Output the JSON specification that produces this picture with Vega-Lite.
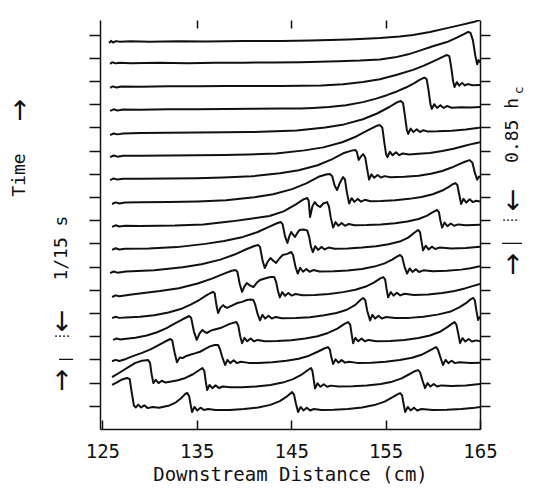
{
"$schema": "https://vega.github.io/schema/vega-lite/v6.json",
"width": 380, "height": 409,
"autosize": {"type": "none"},
"padding": {"left": 100, "top": 20, "right": 53, "bottom": 61},
"background": "white",
"config": {"view": {"stroke": null}, "font": "DejaVu Sans Mono"},
"datasets": {
"traces": [
{"t":1,"x":125.71,"y":16.64},{"t":1,"x":125.92,"y":16.73},{"t":1,"x":126.13,"y":16.66},{"t":1,"x":126.45,"y":16.72},{"t":1,"x":126.87,"y":16.69},{"t":1,"x":128,"y":16.71},{"t":1,"x":130,"y":16.69},{"t":1,"x":133,"y":16.71},{"t":1,"x":136,"y":16.7},{"t":1,"x":140,"y":16.72},{"t":1,"x":144,"y":16.73},{"t":1,"x":147,"y":16.75},{"t":1,"x":149.1,"y":16.77},{"t":1,"x":151,"y":16.79},{"t":1,"x":152.3,"y":16.81},{"t":1,"x":154.4,"y":16.85},{"t":1,"x":156.5,"y":16.92},{"t":1,"x":157.9,"y":16.98},{"t":1,"x":159.7,"y":17.11},{"t":1,"x":161.5,"y":17.28},{"t":1,"x":162.9,"y":17.41},{"t":1,"x":164.3,"y":17.54},{"t":1,"x":165,"y":17.63},
{"t":2,"x":125.82,"y":15.74},{"t":2,"x":126.05,"y":15.81},{"t":2,"x":126.4,"y":15.76},{"t":2,"x":126.8,"y":15.79},{"t":2,"x":128,"y":15.77},{"t":2,"x":131,"y":15.79},{"t":2,"x":134,"y":15.77},{"t":2,"x":137,"y":15.79},{"t":2,"x":140,"y":15.79},{"t":2,"x":143,"y":15.8},{"t":2,"x":146,"y":15.81},{"t":2,"x":148,"y":15.83},{"t":2,"x":150,"y":15.85},{"t":2,"x":152.3,"y":15.88},{"t":2,"x":154.4,"y":15.93},{"t":2,"x":156,"y":16.02},{"t":2,"x":157.4,"y":16.15},{"t":2,"x":158.7,"y":16.32},{"t":2,"x":160,"y":16.5},{"t":2,"x":161.5,"y":16.68},{"t":2,"x":162.6,"y":16.88},{"t":2,"x":163.3,"y":17.02},{"t":2,"x":163.75,"y":17.12},{"t":2,"x":164,"y":17.07},{"t":2,"x":164.25,"y":16.75},{"t":2,"x":164.5,"y":16.1},{"t":2,"x":164.7,"y":15.72},{"t":2,"x":164.85,"y":15.9},{"t":2,"x":165,"y":15.8},
{"t":3,"x":125.82,"y":14.7},{"t":3,"x":126.1,"y":14.77},{"t":3,"x":126.5,"y":14.72},{"t":3,"x":127,"y":14.76},{"t":3,"x":129,"y":14.75},{"t":3,"x":132,"y":14.77},{"t":3,"x":135,"y":14.77},{"t":3,"x":138,"y":14.78},{"t":3,"x":141,"y":14.79},{"t":3,"x":144,"y":14.79},{"t":3,"x":146,"y":14.8},{"t":3,"x":148.2,"y":14.81},{"t":3,"x":150.5,"y":14.86},{"t":3,"x":152.6,"y":14.96},{"t":3,"x":154.4,"y":15.08},{"t":3,"x":156.2,"y":15.27},{"t":3,"x":157.9,"y":15.48},{"t":3,"x":159,"y":15.65},{"t":3,"x":159.7,"y":15.78},{"t":3,"x":160.5,"y":15.93},{"t":3,"x":161.1,"y":16.05},{"t":3,"x":161.5,"y":16.12},{"t":3,"x":161.75,"y":16.07},{"t":3,"x":161.95,"y":15.6},{"t":3,"x":162.15,"y":15},{"t":3,"x":162.3,"y":14.74},{"t":3,"x":162.55,"y":14.95},{"t":3,"x":162.8,"y":14.8},{"t":3,"x":163.1,"y":14.92},{"t":3,"x":163.4,"y":14.81},{"t":3,"x":163.7,"y":14.87},{"t":3,"x":164.2,"y":14.82},{"t":3,"x":165,"y":14.83},
{"t":4,"x":125.82,"y":13.71},{"t":4,"x":126.2,"y":13.78},{"t":4,"x":126.6,"y":13.73},{"t":4,"x":127.2,"y":13.77},{"t":4,"x":129,"y":13.76},{"t":4,"x":132,"y":13.78},{"t":4,"x":135,"y":13.78},{"t":4,"x":138,"y":13.79},{"t":4,"x":141,"y":13.8},{"t":4,"x":144,"y":13.81},{"t":4,"x":146,"y":13.82},{"t":4,"x":147.3,"y":13.84},{"t":4,"x":149,"y":13.88},{"t":4,"x":150.8,"y":13.96},{"t":4,"x":152.6,"y":14.09},{"t":4,"x":154,"y":14.24},{"t":4,"x":155.2,"y":14.4},{"t":4,"x":156.2,"y":14.55},{"t":4,"x":157.2,"y":14.73},{"t":4,"x":158,"y":14.9},{"t":4,"x":158.6,"y":15.05},{"t":4,"x":159.1,"y":15.15},{"t":4,"x":159.35,"y":15.08},{"t":4,"x":159.55,"y":14.6},{"t":4,"x":159.75,"y":14},{"t":4,"x":159.9,"y":13.8},{"t":4,"x":160.15,"y":14},{"t":4,"x":160.45,"y":13.84},{"t":4,"x":160.8,"y":13.96},{"t":4,"x":161.15,"y":13.84},{"t":4,"x":161.5,"y":13.92},{"t":4,"x":162,"y":13.85},{"t":4,"x":163,"y":13.87},{"t":4,"x":164,"y":13.86},{"t":4,"x":165,"y":13.88},
{"t":5,"x":125.82,"y":12.67},{"t":5,"x":126.2,"y":12.74},{"t":5,"x":126.6,"y":12.7},{"t":5,"x":127.2,"y":12.74},{"t":5,"x":129,"y":12.76},{"t":5,"x":132,"y":12.77},{"t":5,"x":135,"y":12.78},{"t":5,"x":138,"y":12.79},{"t":5,"x":140.5,"y":12.8},{"t":5,"x":142.6,"y":12.82},{"t":5,"x":145.6,"y":12.87},{"t":5,"x":148.6,"y":13},{"t":5,"x":150.6,"y":13.13},{"t":5,"x":152.6,"y":13.35},{"t":5,"x":154.1,"y":13.6},{"t":5,"x":155.4,"y":13.88},{"t":5,"x":156.2,"y":14.08},{"t":5,"x":156.6,"y":14.14},{"t":5,"x":156.85,"y":14.05},{"t":5,"x":157.05,"y":13.5},{"t":5,"x":157.25,"y":12.9},{"t":5,"x":157.4,"y":12.72},{"t":5,"x":157.65,"y":12.95},{"t":5,"x":157.95,"y":12.8},{"t":5,"x":158.3,"y":12.92},{"t":5,"x":158.65,"y":12.8},{"t":5,"x":159,"y":12.88},{"t":5,"x":159.5,"y":12.82},{"t":5,"x":160.5,"y":12.83},{"t":5,"x":162,"y":12.86},{"t":5,"x":163.5,"y":12.91},{"t":5,"x":164.7,"y":12.97},{"t":5,"x":165,"y":13},
{"t":6,"x":125.82,"y":11.72},{"t":6,"x":126.2,"y":11.79},{"t":6,"x":126.6,"y":11.74},{"t":6,"x":127.2,"y":11.78},{"t":6,"x":129,"y":11.78},{"t":6,"x":132,"y":11.79},{"t":6,"x":135,"y":11.8},{"t":6,"x":138,"y":11.81},{"t":6,"x":140.4,"y":11.83},{"t":6,"x":143.4,"y":11.88},{"t":6,"x":146.4,"y":12.01},{"t":6,"x":148.4,"y":12.14},{"t":6,"x":150.4,"y":12.36},{"t":6,"x":151.9,"y":12.61},{"t":6,"x":153.2,"y":12.89},{"t":6,"x":154,"y":13.06},{"t":6,"x":154.4,"y":13.1},{"t":6,"x":154.65,"y":13},{"t":6,"x":154.85,"y":12.4},{"t":6,"x":155.05,"y":11.85},{"t":6,"x":155.2,"y":11.72},{"t":6,"x":155.45,"y":11.95},{"t":6,"x":155.75,"y":11.8},{"t":6,"x":156.1,"y":11.93},{"t":6,"x":156.45,"y":11.8},{"t":6,"x":156.8,"y":11.88},{"t":6,"x":157.5,"y":11.83},{"t":6,"x":158.5,"y":11.86},{"t":6,"x":159.7,"y":11.9},{"t":6,"x":161,"y":11.98},{"t":6,"x":162.2,"y":12.08},{"t":6,"x":163.3,"y":12.2},{"t":6,"x":164.3,"y":12.3},{"t":6,"x":165,"y":12.36},
{"t":7,"x":125.82,"y":10.73},{"t":7,"x":126.2,"y":10.8},{"t":7,"x":126.6,"y":10.75},{"t":7,"x":127.2,"y":10.79},{"t":7,"x":129,"y":10.79},{"t":7,"x":132,"y":10.8},{"t":7,"x":135,"y":10.81},{"t":7,"x":137.8,"y":10.84},{"t":7,"x":140.8,"y":10.89},{"t":7,"x":143.8,"y":11.02},{"t":7,"x":145.8,"y":11.15},{"t":7,"x":147.8,"y":11.37},{"t":7,"x":149.3,"y":11.62},{"t":7,"x":150.6,"y":11.9},{"t":7,"x":151.4,"y":12},{"t":7,"x":151.8,"y":12.03},{"t":7,"x":151.95,"y":11.95},{"t":7,"x":152.15,"y":11.6},{"t":7,"x":152.4,"y":11.75},{"t":7,"x":152.62,"y":11.85},{"t":7,"x":152.85,"y":11.7},{"t":7,"x":153.05,"y":11.2},{"t":7,"x":153.25,"y":10.75},{"t":7,"x":153.5,"y":10.98},{"t":7,"x":153.8,"y":10.83},{"t":7,"x":154.15,"y":10.95},{"t":7,"x":154.5,"y":10.84},{"t":7,"x":154.9,"y":10.9},{"t":7,"x":155.5,"y":10.85},{"t":7,"x":157,"y":10.87},{"t":7,"x":158.5,"y":10.92},{"t":7,"x":159.8,"y":11},{"t":7,"x":161,"y":11.12},{"t":7,"x":162,"y":11.27},{"t":7,"x":162.8,"y":11.42},{"t":7,"x":163.4,"y":11.52},{"t":7,"x":163.9,"y":11.59},{"t":7,"x":164.2,"y":11.48},{"t":7,"x":164.45,"y":11.05},{"t":7,"x":164.7,"y":10.75},{"t":7,"x":164.9,"y":10.88},{"t":7,"x":165,"y":10.83},
{"t":8,"x":126.03,"y":9.7},{"t":8,"x":126.4,"y":9.77},{"t":8,"x":126.8,"y":9.72},{"t":8,"x":127.4,"y":9.76},{"t":8,"x":129,"y":9.77},{"t":8,"x":132,"y":9.78},{"t":8,"x":135.1,"y":9.81},{"t":8,"x":138.1,"y":9.86},{"t":8,"x":141.1,"y":9.99},{"t":8,"x":143.1,"y":10.12},{"t":8,"x":145.1,"y":10.34},{"t":8,"x":146.6,"y":10.59},{"t":8,"x":147.9,"y":10.87},{"t":8,"x":148.7,"y":10.97},{"t":8,"x":149.1,"y":10.99},{"t":8,"x":149.35,"y":10.9},{"t":8,"x":149.6,"y":10.5},{"t":8,"x":149.86,"y":10.3},{"t":8,"x":150.15,"y":10.6},{"t":8,"x":150.5,"y":10.86},{"t":8,"x":150.7,"y":10.75},{"t":8,"x":150.9,"y":10.2},{"t":8,"x":151.14,"y":9.72},{"t":8,"x":151.4,"y":9.95},{"t":8,"x":151.7,"y":9.79},{"t":8,"x":152.05,"y":9.92},{"t":8,"x":152.4,"y":9.8},{"t":8,"x":152.8,"y":9.88},{"t":8,"x":153.4,"y":9.82},{"t":8,"x":154.5,"y":9.83},{"t":8,"x":156,"y":9.86},{"t":8,"x":157.5,"y":9.92},{"t":8,"x":158.8,"y":10},{"t":8,"x":160,"y":10.12},{"t":8,"x":161,"y":10.28},{"t":8,"x":161.7,"y":10.44},{"t":8,"x":162.1,"y":10.55},{"t":8,"x":162.4,"y":10.6},{"t":8,"x":162.6,"y":10.52},{"t":8,"x":162.8,"y":10.1},{"t":8,"x":163,"y":9.7},{"t":8,"x":163.25,"y":9.92},{"t":8,"x":163.55,"y":9.76},{"t":8,"x":163.9,"y":9.9},{"t":8,"x":164.25,"y":9.78},{"t":8,"x":164.6,"y":9.84},{"t":8,"x":165,"y":9.81},
{"t":9,"x":126.03,"y":8.71},{"t":9,"x":126.4,"y":8.78},{"t":9,"x":126.8,"y":8.73},{"t":9,"x":127.4,"y":8.76},{"t":9,"x":129,"y":8.75},{"t":9,"x":131,"y":8.76},{"t":9,"x":132.7,"y":8.77},{"t":9,"x":135.7,"y":8.82},{"t":9,"x":138.7,"y":8.95},{"t":9,"x":140.7,"y":9.06},{"t":9,"x":142.7,"y":9.18},{"t":9,"x":144.2,"y":9.38},{"t":9,"x":145.5,"y":9.68},{"t":9,"x":146.3,"y":9.9},{"t":9,"x":146.7,"y":9.96},{"t":9,"x":146.85,"y":9.85},{"t":9,"x":147,"y":9.14},{"t":9,"x":147.25,"y":9.6},{"t":9,"x":147.5,"y":9.78},{"t":9,"x":147.75,"y":9.65},{"t":9,"x":148.06,"y":9.57},{"t":9,"x":148.4,"y":9.72},{"t":9,"x":148.8,"y":9.78},{"t":9,"x":149,"y":9.6},{"t":9,"x":149.2,"y":9.1},{"t":9,"x":149.44,"y":8.68},{"t":9,"x":149.7,"y":8.92},{"t":9,"x":150,"y":8.76},{"t":9,"x":150.35,"y":8.88},{"t":9,"x":150.7,"y":8.76},{"t":9,"x":151.1,"y":8.84},{"t":9,"x":151.7,"y":8.78},{"t":9,"x":153,"y":8.79},{"t":9,"x":154.5,"y":8.82},{"t":9,"x":156,"y":8.87},{"t":9,"x":157.3,"y":8.94},{"t":9,"x":158.5,"y":9.05},{"t":9,"x":159.4,"y":9.2},{"t":9,"x":160,"y":9.35},{"t":9,"x":160.45,"y":9.44},{"t":9,"x":160.65,"y":9.35},{"t":9,"x":160.8,"y":9},{"t":9,"x":160.98,"y":8.68},{"t":9,"x":161.25,"y":8.9},{"t":9,"x":161.55,"y":8.74},{"t":9,"x":161.9,"y":8.86},{"t":9,"x":162.25,"y":8.76},{"t":9,"x":162.7,"y":8.82},{"t":9,"x":163.5,"y":8.78},{"t":9,"x":165,"y":8.8},
{"t":10,"x":126.03,"y":7.72},{"t":10,"x":126.4,"y":7.79},{"t":10,"x":126.8,"y":7.74},{"t":10,"x":127.4,"y":7.77},{"t":10,"x":129.9,"y":7.78},{"t":10,"x":132.9,"y":7.84},{"t":10,"x":135.9,"y":7.98},{"t":10,"x":137.9,"y":8.1},{"t":10,"x":139.9,"y":8.28},{"t":10,"x":141.4,"y":8.48},{"t":10,"x":142.7,"y":8.72},{"t":10,"x":143.5,"y":8.87},{"t":10,"x":143.9,"y":8.92},{"t":10,"x":144.1,"y":8.82},{"t":10,"x":144.35,"y":8.3},{"t":10,"x":144.6,"y":8.02},{"t":10,"x":144.8,"y":8.3},{"t":10,"x":145,"y":8.49},{"t":10,"x":145.2,"y":8.38},{"t":10,"x":145.4,"y":8.28},{"t":10,"x":145.65,"y":8.45},{"t":10,"x":145.9,"y":8.58},{"t":10,"x":146.3,"y":8.6},{"t":10,"x":146.7,"y":8.56},{"t":10,"x":146.9,"y":8.3},{"t":10,"x":147.1,"y":7.85},{"t":10,"x":147.3,"y":7.62},{"t":10,"x":147.55,"y":7.88},{"t":10,"x":147.85,"y":7.72},{"t":10,"x":148.2,"y":7.85},{"t":10,"x":148.55,"y":7.74},{"t":10,"x":148.95,"y":7.82},{"t":10,"x":149.6,"y":7.77},{"t":10,"x":151,"y":7.78},{"t":10,"x":152.5,"y":7.82},{"t":10,"x":154,"y":7.88},{"t":10,"x":155.3,"y":7.96},{"t":10,"x":156.5,"y":8.08},{"t":10,"x":157.4,"y":8.25},{"t":10,"x":158,"y":8.45},{"t":10,"x":158.44,"y":8.58},{"t":10,"x":158.65,"y":8.48},{"t":10,"x":158.8,"y":8.1},{"t":10,"x":158.97,"y":7.7},{"t":10,"x":159.25,"y":7.9},{"t":10,"x":159.55,"y":7.74},{"t":10,"x":159.9,"y":7.86},{"t":10,"x":160.25,"y":7.76},{"t":10,"x":160.7,"y":7.82},{"t":10,"x":162,"y":7.78},{"t":10,"x":163.5,"y":7.8},{"t":10,"x":165,"y":7.86},
{"t":11,"x":125.82,"y":6.72},{"t":11,"x":126.2,"y":6.79},{"t":11,"x":126.6,"y":6.74},{"t":11,"x":127.5,"y":6.79},{"t":11,"x":130.5,"y":6.84},{"t":11,"x":133.5,"y":6.97},{"t":11,"x":135.5,"y":7.1},{"t":11,"x":137.5,"y":7.3},{"t":11,"x":139,"y":7.52},{"t":11,"x":140.3,"y":7.76},{"t":11,"x":141.1,"y":7.89},{"t":11,"x":141.5,"y":7.93},{"t":11,"x":141.7,"y":7.85},{"t":11,"x":141.95,"y":7.3},{"t":11,"x":142.2,"y":6.94},{"t":11,"x":142.5,"y":7.2},{"t":11,"x":142.8,"y":7.37},{"t":11,"x":143.1,"y":7.25},{"t":11,"x":143.4,"y":7.16},{"t":11,"x":143.75,"y":7.35},{"t":11,"x":144.1,"y":7.5},{"t":11,"x":144.6,"y":7.55},{"t":11,"x":145,"y":7.63},{"t":11,"x":145.2,"y":7.5},{"t":11,"x":145.45,"y":7},{"t":11,"x":145.7,"y":6.7},{"t":11,"x":145.95,"y":6.95},{"t":11,"x":146.25,"y":6.78},{"t":11,"x":146.6,"y":6.9},{"t":11,"x":146.95,"y":6.78},{"t":11,"x":147.35,"y":6.85},{"t":11,"x":148,"y":6.79},{"t":11,"x":149.5,"y":6.8},{"t":11,"x":151,"y":6.83},{"t":11,"x":152.5,"y":6.9},{"t":11,"x":153.8,"y":7},{"t":11,"x":154.9,"y":7.14},{"t":11,"x":155.7,"y":7.3},{"t":11,"x":156.2,"y":7.43},{"t":11,"x":156.54,"y":7.5},{"t":11,"x":156.75,"y":7.42},{"t":11,"x":157,"y":7},{"t":11,"x":157.28,"y":6.7},{"t":11,"x":157.55,"y":6.92},{"t":11,"x":157.85,"y":6.77},{"t":11,"x":158.2,"y":6.89},{"t":11,"x":158.55,"y":6.77},{"t":11,"x":159,"y":6.84},{"t":11,"x":160,"y":6.8},{"t":11,"x":161.5,"y":6.82},{"t":11,"x":163,"y":6.87},{"t":11,"x":164,"y":6.93},{"t":11,"x":165,"y":7.02},
{"t":12,"x":126.03,"y":5.69},{"t":12,"x":126.4,"y":5.76},{"t":12,"x":126.8,"y":5.72},{"t":12,"x":128.1,"y":5.8},{"t":12,"x":131.1,"y":5.95},{"t":12,"x":133.1,"y":6.07},{"t":12,"x":135.1,"y":6.27},{"t":12,"x":136.6,"y":6.48},{"t":12,"x":137.9,"y":6.7},{"t":12,"x":138.7,"y":6.82},{"t":12,"x":139.1,"y":6.85},{"t":12,"x":139.3,"y":6.78},{"t":12,"x":139.55,"y":6.25},{"t":12,"x":139.8,"y":5.91},{"t":12,"x":140.05,"y":6.15},{"t":12,"x":140.3,"y":6.29},{"t":12,"x":140.65,"y":6.18},{"t":12,"x":141,"y":6.12},{"t":12,"x":141.35,"y":6.3},{"t":12,"x":141.7,"y":6.42},{"t":12,"x":142.3,"y":6.5},{"t":12,"x":142.8,"y":6.55},{"t":12,"x":143.2,"y":6.55},{"t":12,"x":143.4,"y":6.35},{"t":12,"x":143.6,"y":5.95},{"t":12,"x":143.8,"y":5.67},{"t":12,"x":144.05,"y":5.9},{"t":12,"x":144.35,"y":5.74},{"t":12,"x":144.7,"y":5.86},{"t":12,"x":145.05,"y":5.75},{"t":12,"x":145.45,"y":5.82},{"t":12,"x":146.2,"y":5.77},{"t":12,"x":147.5,"y":5.78},{"t":12,"x":149,"y":5.82},{"t":12,"x":150.5,"y":5.9},{"t":12,"x":151.8,"y":6},{"t":12,"x":152.9,"y":6.14},{"t":12,"x":153.8,"y":6.32},{"t":12,"x":154.4,"y":6.48},{"t":12,"x":154.74,"y":6.55},{"t":12,"x":154.95,"y":6.45},{"t":12,"x":155.1,"y":6.05},{"t":12,"x":155.27,"y":5.68},{"t":12,"x":155.55,"y":5.9},{"t":12,"x":155.85,"y":5.75},{"t":12,"x":156.2,"y":5.87},{"t":12,"x":156.55,"y":5.76},{"t":12,"x":157,"y":5.83},{"t":12,"x":158,"y":5.78},{"t":12,"x":159.5,"y":5.8},{"t":12,"x":161,"y":5.86},{"t":12,"x":162.3,"y":5.95},{"t":12,"x":163.4,"y":6.06},{"t":12,"x":164.3,"y":6.17},{"t":12,"x":165,"y":6.25},
{"t":13,"x":126.03,"y":4.78},{"t":13,"x":126.4,"y":4.84},{"t":13,"x":126.8,"y":4.79},{"t":13,"x":127.5,"y":4.81},{"t":13,"x":129,"y":4.84},{"t":13,"x":130.5,"y":4.9},{"t":13,"x":132,"y":5.02},{"t":13,"x":133.3,"y":5.17},{"t":13,"x":134.4,"y":5.37},{"t":13,"x":135.3,"y":5.57},{"t":13,"x":136.1,"y":5.78},{"t":13,"x":136.7,"y":5.91},{"t":13,"x":136.9,"y":5.85},{"t":13,"x":137.1,"y":5.3},{"t":13,"x":137.26,"y":5},{"t":13,"x":137.5,"y":5.22},{"t":13,"x":137.8,"y":5.34},{"t":13,"x":138,"y":5.26},{"t":13,"x":138.2,"y":5.22},{"t":13,"x":138.6,"y":5.3},{"t":13,"x":139.3,"y":5.43},{"t":13,"x":139.8,"y":5.48},{"t":13,"x":140.3,"y":5.56},{"t":13,"x":140.7,"y":5.58},{"t":13,"x":141,"y":5.56},{"t":13,"x":141.2,"y":5.35},{"t":13,"x":141.45,"y":4.95},{"t":13,"x":141.7,"y":4.68},{"t":13,"x":141.95,"y":4.92},{"t":13,"x":142.25,"y":4.76},{"t":13,"x":142.6,"y":4.88},{"t":13,"x":142.95,"y":4.76},{"t":13,"x":143.35,"y":4.83},{"t":13,"x":144,"y":4.77},{"t":13,"x":145.5,"y":4.78},{"t":13,"x":147,"y":4.82},{"t":13,"x":148.5,"y":4.9},{"t":13,"x":149.8,"y":5},{"t":13,"x":150.9,"y":5.14},{"t":13,"x":151.8,"y":5.35},{"t":13,"x":152.3,"y":5.55},{"t":13,"x":152.62,"y":5.65},{"t":13,"x":152.85,"y":5.55},{"t":13,"x":153.05,"y":5.1},{"t":13,"x":153.36,"y":4.68},{"t":13,"x":153.6,"y":4.92},{"t":13,"x":153.9,"y":4.76},{"t":13,"x":154.25,"y":4.88},{"t":13,"x":154.6,"y":4.76},{"t":13,"x":155.05,"y":4.83},{"t":13,"x":156,"y":4.78},{"t":13,"x":157.5,"y":4.79},{"t":13,"x":159,"y":4.84},{"t":13,"x":160.5,"y":4.93},{"t":13,"x":161.8,"y":5.05},{"t":13,"x":162.8,"y":5.24},{"t":13,"x":163.6,"y":5.45},{"t":13,"x":164.05,"y":5.6},{"t":13,"x":164.27,"y":5.65},{"t":13,"x":164.45,"y":5.55},{"t":13,"x":164.62,"y":5.1},{"t":13,"x":164.8,"y":4.7},{"t":13,"x":165,"y":4.85},
{"t":14,"x":126.13,"y":3.84},{"t":14,"x":126.5,"y":3.9},{"t":14,"x":126.9,"y":3.86},{"t":14,"x":127.3,"y":3.88},{"t":14,"x":128.5,"y":3.93},{"t":14,"x":129.7,"y":4.03},{"t":14,"x":130.8,"y":4.17},{"t":14,"x":131.8,"y":4.35},{"t":14,"x":132.7,"y":4.55},{"t":14,"x":133.5,"y":4.73},{"t":14,"x":134.2,"y":4.87},{"t":14,"x":134.4,"y":4.8},{"t":14,"x":134.7,"y":4.2},{"t":14,"x":135,"y":3.84},{"t":14,"x":135.3,"y":4.12},{"t":14,"x":135.6,"y":4.27},{"t":14,"x":135.85,"y":4.18},{"t":14,"x":136.1,"y":4.14},{"t":14,"x":136.4,"y":4.22},{"t":14,"x":136.7,"y":4.27},{"t":14,"x":137.5,"y":4.35},{"t":14,"x":138.5,"y":4.53},{"t":14,"x":139.2,"y":4.61},{"t":14,"x":139.4,"y":4.45},{"t":14,"x":139.6,"y":4},{"t":14,"x":139.8,"y":3.7},{"t":14,"x":140.05,"y":3.93},{"t":14,"x":140.35,"y":3.78},{"t":14,"x":140.7,"y":3.9},{"t":14,"x":141.05,"y":3.78},{"t":14,"x":141.45,"y":3.84},{"t":14,"x":142.2,"y":3.78},{"t":14,"x":143.5,"y":3.79},{"t":14,"x":145,"y":3.83},{"t":14,"x":146.5,"y":3.9},{"t":14,"x":147.8,"y":4},{"t":14,"x":148.9,"y":4.14},{"t":14,"x":149.9,"y":4.33},{"t":14,"x":150.6,"y":4.52},{"t":14,"x":151.03,"y":4.61},{"t":14,"x":151.25,"y":4.5},{"t":14,"x":151.4,"y":4.1},{"t":14,"x":151.56,"y":3.7},{"t":14,"x":151.8,"y":3.93},{"t":14,"x":152.1,"y":3.78},{"t":14,"x":152.45,"y":3.9},{"t":14,"x":152.8,"y":3.78},{"t":14,"x":153.2,"y":3.84},{"t":14,"x":154,"y":3.78},{"t":14,"x":155.5,"y":3.79},{"t":14,"x":157,"y":3.84},{"t":14,"x":158.5,"y":3.92},{"t":14,"x":159.7,"y":4.03},{"t":14,"x":160.7,"y":4.18},{"t":14,"x":161.5,"y":4.38},{"t":14,"x":162,"y":4.53},{"t":14,"x":162.3,"y":4.61},{"t":14,"x":162.5,"y":4.5},{"t":14,"x":162.7,"y":4.1},{"t":14,"x":162.89,"y":3.7},{"t":14,"x":163.15,"y":3.92},{"t":14,"x":163.45,"y":3.77},{"t":14,"x":163.8,"y":3.88},{"t":14,"x":164.15,"y":3.77},{"t":14,"x":164.6,"y":3.82},{"t":14,"x":165,"y":3.78},
{"t":15,"x":126.03,"y":2.92},{"t":15,"x":126.4,"y":2.98},{"t":15,"x":126.8,"y":2.93},{"t":15,"x":127.5,"y":3.02},{"t":15,"x":128.3,"y":3.15},{"t":15,"x":129.2,"y":3.28},{"t":15,"x":130.1,"y":3.43},{"t":15,"x":130.9,"y":3.6},{"t":15,"x":131.6,"y":3.76},{"t":15,"x":132.2,"y":3.88},{"t":15,"x":132.4,"y":3.82},{"t":15,"x":132.65,"y":3.3},{"t":15,"x":132.9,"y":2.88},{"t":15,"x":133.2,"y":3.08},{"t":15,"x":133.5,"y":3.06},{"t":15,"x":133.9,"y":3.15},{"t":15,"x":134.3,"y":3.2},{"t":15,"x":134.8,"y":3.26},{"t":15,"x":135.35,"y":3.33},{"t":15,"x":135.9,"y":3.45},{"t":15,"x":136.4,"y":3.56},{"t":15,"x":136.9,"y":3.62},{"t":15,"x":137.26,"y":3.62},{"t":15,"x":137.45,"y":3.45},{"t":15,"x":137.7,"y":3.1},{"t":15,"x":138,"y":2.76},{"t":15,"x":138.25,"y":2.98},{"t":15,"x":138.55,"y":2.84},{"t":15,"x":138.9,"y":2.96},{"t":15,"x":139.25,"y":2.84},{"t":15,"x":139.65,"y":2.9},{"t":15,"x":140.5,"y":2.85},{"t":15,"x":141.5,"y":2.85},{"t":15,"x":143,"y":2.88},{"t":15,"x":144.5,"y":2.94},{"t":15,"x":145.8,"y":3.03},{"t":15,"x":146.9,"y":3.16},{"t":15,"x":147.8,"y":3.33},{"t":15,"x":148.5,"y":3.47},{"t":15,"x":148.9,"y":3.53},{"t":15,"x":149.1,"y":3.42},{"t":15,"x":149.25,"y":3.1},{"t":15,"x":149.44,"y":2.8},{"t":15,"x":149.7,"y":3},{"t":15,"x":150,"y":2.86},{"t":15,"x":150.35,"y":2.97},{"t":15,"x":150.7,"y":2.86},{"t":15,"x":151.1,"y":2.9},{"t":15,"x":152,"y":2.85},{"t":15,"x":153.5,"y":2.86},{"t":15,"x":155,"y":2.9},{"t":15,"x":156.5,"y":2.97},{"t":15,"x":157.8,"y":3.07},{"t":15,"x":158.8,"y":3.2},{"t":15,"x":159.6,"y":3.37},{"t":15,"x":160.1,"y":3.48},{"t":15,"x":160.35,"y":3.53},{"t":15,"x":160.55,"y":3.42},{"t":15,"x":160.8,"y":3.1},{"t":15,"x":161.08,"y":2.76},{"t":15,"x":161.35,"y":2.98},{"t":15,"x":161.65,"y":2.84},{"t":15,"x":162,"y":2.94},{"t":15,"x":162.35,"y":2.84},{"t":15,"x":162.8,"y":2.88},{"t":15,"x":164,"y":2.85},{"t":15,"x":165,"y":2.86},
{"t":16,"x":126.03,"y":2.24},{"t":16,"x":126.5,"y":2.35},{"t":16,"x":127.1,"y":2.5},{"t":16,"x":127.8,"y":2.68},{"t":16,"x":128.5,"y":2.85},{"t":16,"x":129.2,"y":2.94},{"t":16,"x":129.85,"y":2.97},{"t":16,"x":130.05,"y":2.85},{"t":16,"x":130.2,"y":2.4},{"t":16,"x":130.4,"y":1.98},{"t":16,"x":130.65,"y":2.12},{"t":16,"x":130.95,"y":1.98},{"t":16,"x":131.3,"y":2.08},{"t":16,"x":131.7,"y":2},{"t":16,"x":132.3,"y":2.05},{"t":16,"x":133,"y":2.1},{"t":16,"x":133.8,"y":2.2},{"t":16,"x":134.6,"y":2.36},{"t":16,"x":135.2,"y":2.52},{"t":16,"x":135.6,"y":2.63},{"t":16,"x":135.8,"y":2.5},{"t":16,"x":135.95,"y":2.05},{"t":16,"x":136.1,"y":1.68},{"t":16,"x":136.35,"y":1.9},{"t":16,"x":136.65,"y":1.76},{"t":16,"x":137,"y":1.88},{"t":16,"x":137.35,"y":1.77},{"t":16,"x":137.75,"y":1.83},{"t":16,"x":138.5,"y":1.8},{"t":16,"x":139.8,"y":1.8},{"t":16,"x":141.3,"y":1.83},{"t":16,"x":142.8,"y":1.9},{"t":16,"x":144.1,"y":2},{"t":16,"x":145.2,"y":2.15},{"t":16,"x":146.1,"y":2.34},{"t":16,"x":146.7,"y":2.52},{"t":16,"x":147.1,"y":2.63},{"t":16,"x":147.25,"y":2.5},{"t":16,"x":147.4,"y":2.1},{"t":16,"x":147.53,"y":1.75},{"t":16,"x":147.8,"y":1.97},{"t":16,"x":148.1,"y":1.82},{"t":16,"x":148.45,"y":1.93},{"t":16,"x":148.8,"y":1.82},{"t":16,"x":149.2,"y":1.87},{"t":16,"x":150,"y":1.83},{"t":16,"x":151.5,"y":1.84},{"t":16,"x":153,"y":1.87},{"t":16,"x":154.5,"y":1.94},{"t":16,"x":155.7,"y":2.04},{"t":16,"x":156.7,"y":2.18},{"t":16,"x":157.5,"y":2.36},{"t":16,"x":158.1,"y":2.49},{"t":16,"x":158.44,"y":2.54},{"t":16,"x":158.65,"y":2.45},{"t":16,"x":158.9,"y":2.1},{"t":16,"x":159.18,"y":1.76},{"t":16,"x":159.45,"y":1.98},{"t":16,"x":159.75,"y":1.83},{"t":16,"x":160.1,"y":1.94},{"t":16,"x":160.45,"y":1.83},{"t":16,"x":160.9,"y":1.88},{"t":16,"x":162,"y":1.85},{"t":16,"x":163.5,"y":1.88},{"t":16,"x":165,"y":1.94},
{"t":17,"x":126.03,"y":1.9},{"t":17,"x":126.5,"y":2},{"t":17,"x":127,"y":2.12},{"t":17,"x":127.6,"y":2.2},{"t":17,"x":127.9,"y":2.15},{"t":17,"x":128.1,"y":1.6},{"t":17,"x":128.35,"y":1},{"t":17,"x":128.55,"y":0.93},{"t":17,"x":128.8,"y":1.05},{"t":17,"x":129.1,"y":0.93},{"t":17,"x":129.45,"y":1.02},{"t":17,"x":129.8,"y":0.9},{"t":17,"x":130.3,"y":0.95},{"t":17,"x":131,"y":0.92},{"t":17,"x":132,"y":1},{"t":17,"x":132.8,"y":1.15},{"t":17,"x":133.4,"y":1.35},{"t":17,"x":133.8,"y":1.52},{"t":17,"x":134,"y":1.55},{"t":17,"x":134.2,"y":1.4},{"t":17,"x":134.35,"y":1.05},{"t":17,"x":134.5,"y":0.73},{"t":17,"x":134.75,"y":0.95},{"t":17,"x":135.05,"y":0.8},{"t":17,"x":135.4,"y":0.92},{"t":17,"x":135.75,"y":0.82},{"t":17,"x":136.2,"y":0.86},{"t":17,"x":137,"y":0.82},{"t":17,"x":138.5,"y":0.82},{"t":17,"x":140,"y":0.86},{"t":17,"x":141.5,"y":0.93},{"t":17,"x":142.8,"y":1.04},{"t":17,"x":143.8,"y":1.2},{"t":17,"x":144.6,"y":1.42},{"t":17,"x":145.1,"y":1.59},{"t":17,"x":145.3,"y":1.48},{"t":17,"x":145.5,"y":1.1},{"t":17,"x":145.73,"y":0.73},{"t":17,"x":146,"y":0.95},{"t":17,"x":146.3,"y":0.8},{"t":17,"x":146.65,"y":0.92},{"t":17,"x":147,"y":0.8},{"t":17,"x":147.4,"y":0.86},{"t":17,"x":148.2,"y":0.82},{"t":17,"x":149.5,"y":0.83},{"t":17,"x":151,"y":0.86},{"t":17,"x":152.5,"y":0.93},{"t":17,"x":153.8,"y":1.03},{"t":17,"x":154.9,"y":1.18},{"t":17,"x":155.8,"y":1.38},{"t":17,"x":156.3,"y":1.5},{"t":17,"x":156.54,"y":1.55},{"t":17,"x":156.75,"y":1.45},{"t":17,"x":156.9,"y":1.1},{"t":17,"x":157.07,"y":0.73},{"t":17,"x":157.35,"y":0.95},{"t":17,"x":157.65,"y":0.8},{"t":17,"x":158,"y":0.92},{"t":17,"x":158.35,"y":0.8},{"t":17,"x":158.8,"y":0.86},{"t":17,"x":160,"y":0.82},{"t":17,"x":161.5,"y":0.83},{"t":17,"x":163,"y":0.86},{"t":17,"x":164.2,"y":0.9},{"t":17,"x":165,"y":0.95}
],
"vlabels": [
{"x":116.28,"y":10.95,"label":"Time"},
{"x":120.73,"y":7.8,"label":"1/15 s"},
{"x":168.51,"y":12.87,"label":"0.85 h"}
],
"sublabels": [
{"x":169.1,"y":14.6,"label":"c"}
],
"arrows": [
{"x":116.28,"y":13.66,"label":"↑"},
{"x":120.73,"y":4.57,"label":"↓"},
{"x":120.73,"y":2.03,"label":"↑"},
{"x":168.51,"y":9.78,"label":"↓"},
{"x":168.51,"y":7.03,"label":"↑"}
],
"bars": [
{"x":119.99,"x2":121.58,"y":4.0,"kind":"dotted"},
{"x":120.41,"x2":121.9,"y":3.0,"kind":"solid"},
{"x":167.45,"x2":169.04,"y":9.0,"kind":"dotted"},
{"x":167.34,"x2":169.46,"y":8.0,"kind":"solid"}
]
},
"layer": [
{
"data": {"name": "traces"},
"mark": {"type": "line", "stroke": "#111", "strokeWidth": 2, "clip": true, "strokeJoin": "round"},
"encoding": {
"x": {"field": "x", "type": "quantitative", "scale": {"domain": [124.75, 165], "nice": false, "zero": false},
"axis": {"orient": "bottom", "values": [125,135,145,155,165], "tickSize": -9, "tickColor": "#111", "tickWidth": 1.5, "domainColor": "#111", "domainWidth": 1.5, "labelFont": "DejaVu Sans Mono", "labelFontSize": 19, "labelColor": "#111", "labelPadding": 22, "labelFlush": false, "labelOverlap": false, "grid": false, "title": "Downstream Distance (cm)", "titleFont": "DejaVu Sans Mono", "titleFontSize": 19, "titleFontWeight": "normal", "titleColor": "#111", "titlePadding": 4}},
"y": {"field": "y", "type": "quantitative", "scale": {"domain": [0, 17.63], "nice": false, "zero": false},
"axis": {"orient": "left", "values": [1,2,3,4,5,6,7,8,9,10,11,12,13,14,15,16,17], "labels": false, "tickSize": 11, "tickColor": "#111", "tickWidth": 1.5, "domainColor": "#111", "domainWidth": 1.5, "grid": false, "title": null}},
"detail": {"field": "t", "type": "nominal"}
}
},
{
"data": {"name": "bars"},
"mark": {"type": "rule", "stroke": "#111", "strokeWidth": 1.3, "clip": false},
"encoding": {
"x": {"field": "x", "type": "quantitative", "scale": {"domain": [124.75, 165], "nice": false, "zero": false},
"axis": {"orient": "top", "values": [135,145,155], "labels": false, "domain": false, "tickSize": -8, "tickColor": "#111", "tickWidth": 1.5, "grid": false, "title": null}},
"x2": {"field": "x2"},
"y": {"field": "y", "type": "quantitative", "scale": {"domain": [0, 17.63], "nice": false, "zero": false},
"axis": {"orient": "right", "values": [1,2,3,4,5,6,7,8,9,10,11,12,13,14,15,16,17], "labels": false, "tickSize": 10, "tickColor": "#111", "tickWidth": 1.5, "domainColor": "#111", "domainWidth": 1.5, "grid": false, "title": null}},
"strokeDash": {"field": "kind", "type": "nominal", "scale": {"domain": ["dotted","solid"], "range": [[2,2],[1,0]]}, "legend": null}
}
},
{
"data": {"name": "vlabels"},
"mark": {"type": "text", "angle": 270, "font": "DejaVu Sans Mono", "fontSize": 18, "color": "#111", "align": "center", "baseline": "middle"},
"encoding": {
"x": {"field": "x", "type": "quantitative", "scale": {"domain": [124.75, 165], "nice": false, "zero": false}, "axis": null},
"y": {"field": "y", "type": "quantitative", "scale": {"domain": [0, 17.63], "nice": false, "zero": false}, "axis": null},
"text": {"field": "label"}
}
},
{
"data": {"name": "sublabels"},
"mark": {"type": "text", "angle": 270, "font": "DejaVu Sans Mono", "fontSize": 13, "color": "#111", "align": "center", "baseline": "middle"},
"encoding": {
"x": {"field": "x", "type": "quantitative", "scale": {"domain": [124.75, 165], "nice": false, "zero": false}, "axis": null},
"y": {"field": "y", "type": "quantitative", "scale": {"domain": [0, 17.63], "nice": false, "zero": false}, "axis": null},
"text": {"field": "label"}
}
},
{
"data": {"name": "arrows"},
"mark": {"type": "text", "font": "DejaVu Sans", "fontSize": 27, "color": "#111", "align": "center", "baseline": "middle"},
"encoding": {
"x": {"field": "x", "type": "quantitative", "scale": {"domain": [124.75, 165], "nice": false, "zero": false}, "axis": null},
"y": {"field": "y", "type": "quantitative", "scale": {"domain": [0, 17.63], "nice": false, "zero": false}, "axis": null},
"text": {"field": "label"}
}
}
],
"resolve": {"axis": {"x": "independent", "y": "independent"}}
}
